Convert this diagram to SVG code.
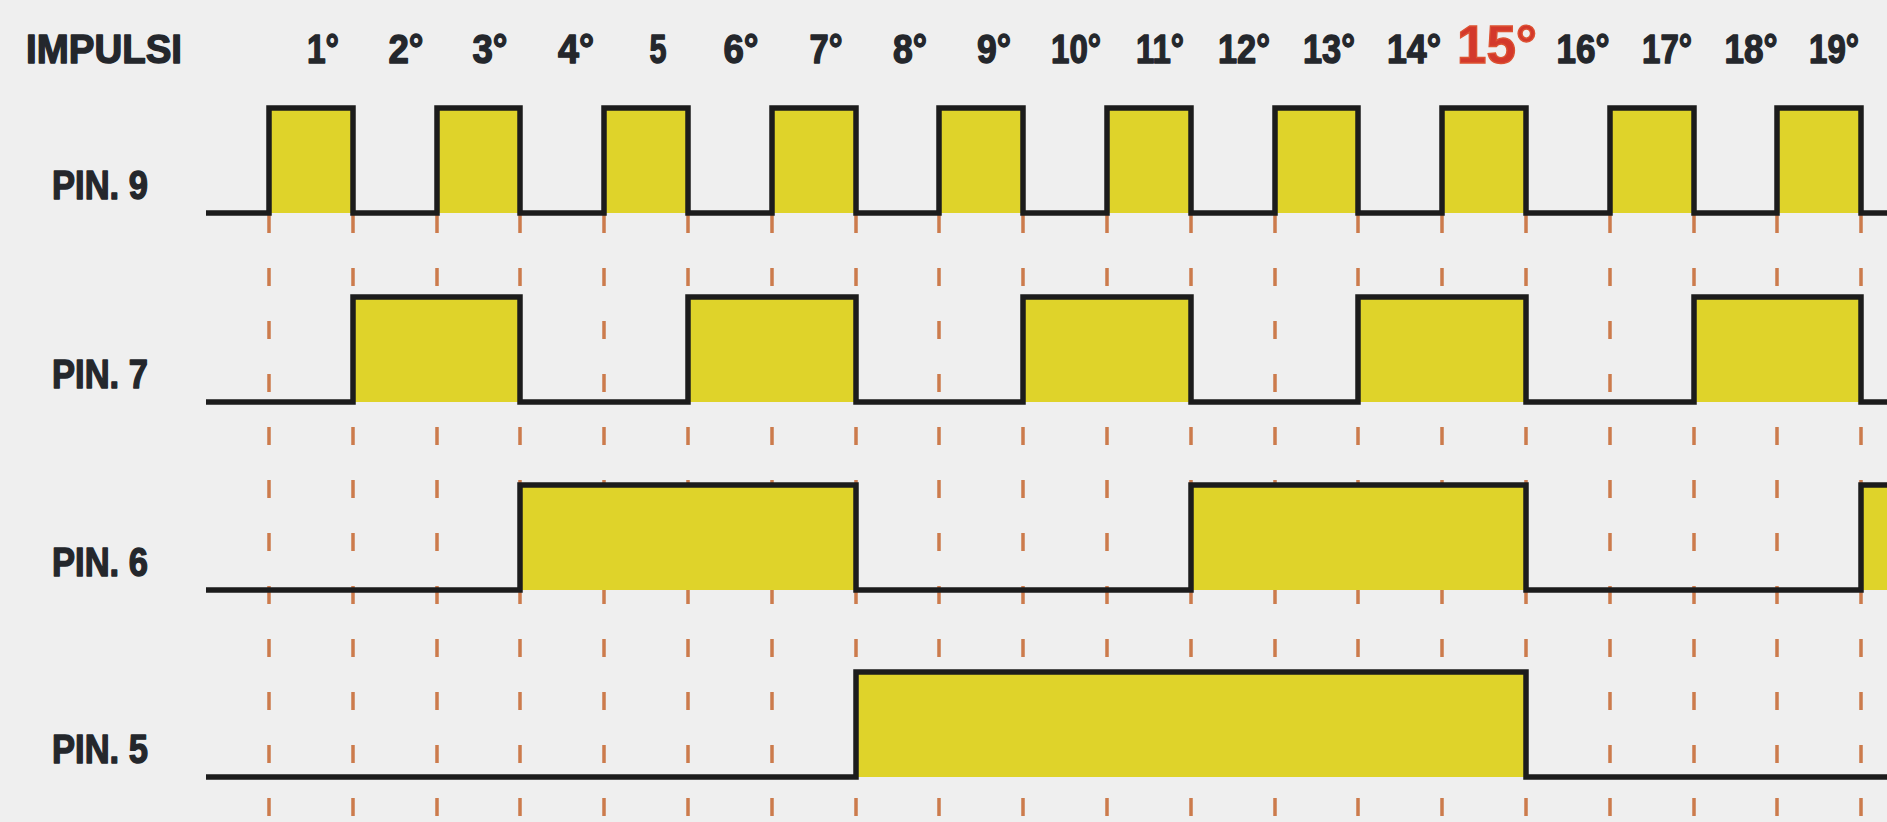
<svg xmlns="http://www.w3.org/2000/svg" width="1887" height="822" viewBox="0 0 1887 822">
<style>
.bg{fill:#efefef}
.t{font-family:"Liberation Sans",Arial,sans-serif;font-weight:bold;fill:#24272c;stroke:#24272c;stroke-width:1.4;stroke-linejoin:round}
.n{font-size:40px;text-anchor:middle}
.p{font-size:40px}
.red{font-family:"Liberation Sans",Arial,sans-serif;font-weight:bold;font-size:54px;fill:#d3382b;stroke:#dd5232;stroke-width:1.4;text-anchor:middle}
.fill{fill:#dfd32a}
.wave{fill:none;stroke:#1c1c1c;stroke-width:5.5;stroke-linejoin:miter;stroke-linecap:butt}
.guide{stroke:#cc7b4c;stroke-width:3.5;stroke-dasharray:18 35;stroke-dashoffset:-2}
</style>
<rect class="bg" x="0" y="0" width="1887" height="822"/>

<g id="guides">
<line class="guide" x1="269" y1="213" x2="269" y2="822"/>
<line class="guide" x1="353" y1="213" x2="353" y2="822"/>
<line class="guide" x1="437" y1="213" x2="437" y2="822"/>
<line class="guide" x1="520" y1="213" x2="520" y2="822"/>
<line class="guide" x1="604" y1="213" x2="604" y2="822"/>
<line class="guide" x1="688" y1="213" x2="688" y2="822"/>
<line class="guide" x1="772" y1="213" x2="772" y2="822"/>
<line class="guide" x1="856" y1="213" x2="856" y2="822"/>
<line class="guide" x1="939" y1="213" x2="939" y2="822"/>
<line class="guide" x1="1023" y1="213" x2="1023" y2="822"/>
<line class="guide" x1="1107" y1="213" x2="1107" y2="822"/>
<line class="guide" x1="1191" y1="213" x2="1191" y2="822"/>
<line class="guide" x1="1275" y1="213" x2="1275" y2="822"/>
<line class="guide" x1="1358" y1="213" x2="1358" y2="822"/>
<line class="guide" x1="1442" y1="213" x2="1442" y2="822"/>
<line class="guide" x1="1526" y1="213" x2="1526" y2="822"/>
<line class="guide" x1="1610" y1="213" x2="1610" y2="822"/>
<line class="guide" x1="1694" y1="213" x2="1694" y2="822"/>
<line class="guide" x1="1777" y1="213" x2="1777" y2="822"/>
<line class="guide" x1="1861" y1="213" x2="1861" y2="822"/>
</g>

<g id="header">
<text class="t p" x="26" y="63" textLength="156" lengthAdjust="spacingAndGlyphs">IMPULSI</text>
<text class="t n" x="323" y="63" textLength="32" lengthAdjust="spacingAndGlyphs">1°</text>
<text class="t n" x="406" y="63" textLength="35" lengthAdjust="spacingAndGlyphs">2°</text>
<text class="t n" x="490" y="63" textLength="35" lengthAdjust="spacingAndGlyphs">3°</text>
<text class="t n" x="576" y="63" textLength="36" lengthAdjust="spacingAndGlyphs">4°</text>
<text class="t n" x="658" y="63" textLength="17" lengthAdjust="spacingAndGlyphs">5</text>
<text class="t n" x="741" y="63" textLength="35" lengthAdjust="spacingAndGlyphs">6°</text>
<text class="t n" x="826" y="63" textLength="33" lengthAdjust="spacingAndGlyphs">7°</text>
<text class="t n" x="910" y="63" textLength="34" lengthAdjust="spacingAndGlyphs">8°</text>
<text class="t n" x="994" y="63" textLength="34" lengthAdjust="spacingAndGlyphs">9°</text>
<text class="t n" x="1076" y="63" textLength="50" lengthAdjust="spacingAndGlyphs">10°</text>
<text class="t n" x="1160" y="63" textLength="48" lengthAdjust="spacingAndGlyphs">11°</text>
<text class="t n" x="1244" y="63" textLength="52" lengthAdjust="spacingAndGlyphs">12°</text>
<text class="t n" x="1329" y="63" textLength="52" lengthAdjust="spacingAndGlyphs">13°</text>
<text class="t n" x="1414" y="63" textLength="54" lengthAdjust="spacingAndGlyphs">14°</text>
<text class="red" x="1497" y="63" textLength="80" lengthAdjust="spacingAndGlyphs">15°</text>
<text class="t n" x="1583" y="63" textLength="53" lengthAdjust="spacingAndGlyphs">16°</text>
<text class="t n" x="1667" y="63" textLength="50" lengthAdjust="spacingAndGlyphs">17°</text>
<text class="t n" x="1751" y="63" textLength="53" lengthAdjust="spacingAndGlyphs">18°</text>
<text class="t n" x="1834" y="63" textLength="50" lengthAdjust="spacingAndGlyphs">19°</text>
</g>

<g id="pin9">
<text class="t p" x="52" y="199" textLength="96" lengthAdjust="spacingAndGlyphs">PIN. 9</text>
<rect class="fill" x="269" y="108" width="84" height="105"/>
<rect class="fill" x="437" y="108" width="83" height="105"/>
<rect class="fill" x="604" y="108" width="84" height="105"/>
<rect class="fill" x="772" y="108" width="84" height="105"/>
<rect class="fill" x="939" y="108" width="84" height="105"/>
<rect class="fill" x="1107" y="108" width="84" height="105"/>
<rect class="fill" x="1275" y="108" width="83" height="105"/>
<rect class="fill" x="1442" y="108" width="84" height="105"/>
<rect class="fill" x="1610" y="108" width="84" height="105"/>
<rect class="fill" x="1777" y="108" width="84" height="105"/>
<path class="wave" d="M206,213 H269 V108 H353 V213 H437 V108 H520 V213 H604 V108 H688 V213 H772 V108 H856 V213 H939 V108 H1023 V213 H1107 V108 H1191 V213 H1275 V108 H1358 V213 H1442 V108 H1526 V213 H1610 V108 H1694 V213 H1777 V108 H1861 V213 H1887"/>
</g>

<g id="pin7">
<text class="t p" x="52" y="388" textLength="96" lengthAdjust="spacingAndGlyphs">PIN. 7</text>
<rect class="fill" x="353" y="297" width="167" height="105"/>
<rect class="fill" x="688" y="297" width="168" height="105"/>
<rect class="fill" x="1023" y="297" width="168" height="105"/>
<rect class="fill" x="1358" y="297" width="168" height="105"/>
<rect class="fill" x="1694" y="297" width="167" height="105"/>
<path class="wave" d="M206,402 H353 V297 H520 V402 H688 V297 H856 V402 H1023 V297 H1191 V402 H1358 V297 H1526 V402 H1694 V297 H1861 V402 H1887"/>
</g>

<g id="pin6">
<text class="t p" x="52" y="576" textLength="96" lengthAdjust="spacingAndGlyphs">PIN. 6</text>
<rect class="fill" x="520" y="485" width="336" height="105"/>
<rect class="fill" x="1191" y="485" width="335" height="105"/>
<rect class="fill" x="1861" y="485" width="26" height="105"/>
<path class="wave" d="M206,590 H520 V485 H856 V590 H1191 V485 H1526 V590 H1861 V485 H1887"/>
</g>

<g id="pin5">
<text class="t p" x="52" y="763" textLength="96" lengthAdjust="spacingAndGlyphs">PIN. 5</text>
<rect class="fill" x="856" y="672" width="670" height="105"/>
<path class="wave" d="M206,777 H856 V672 H1526 V777 H1887"/>
</g>
</svg>
